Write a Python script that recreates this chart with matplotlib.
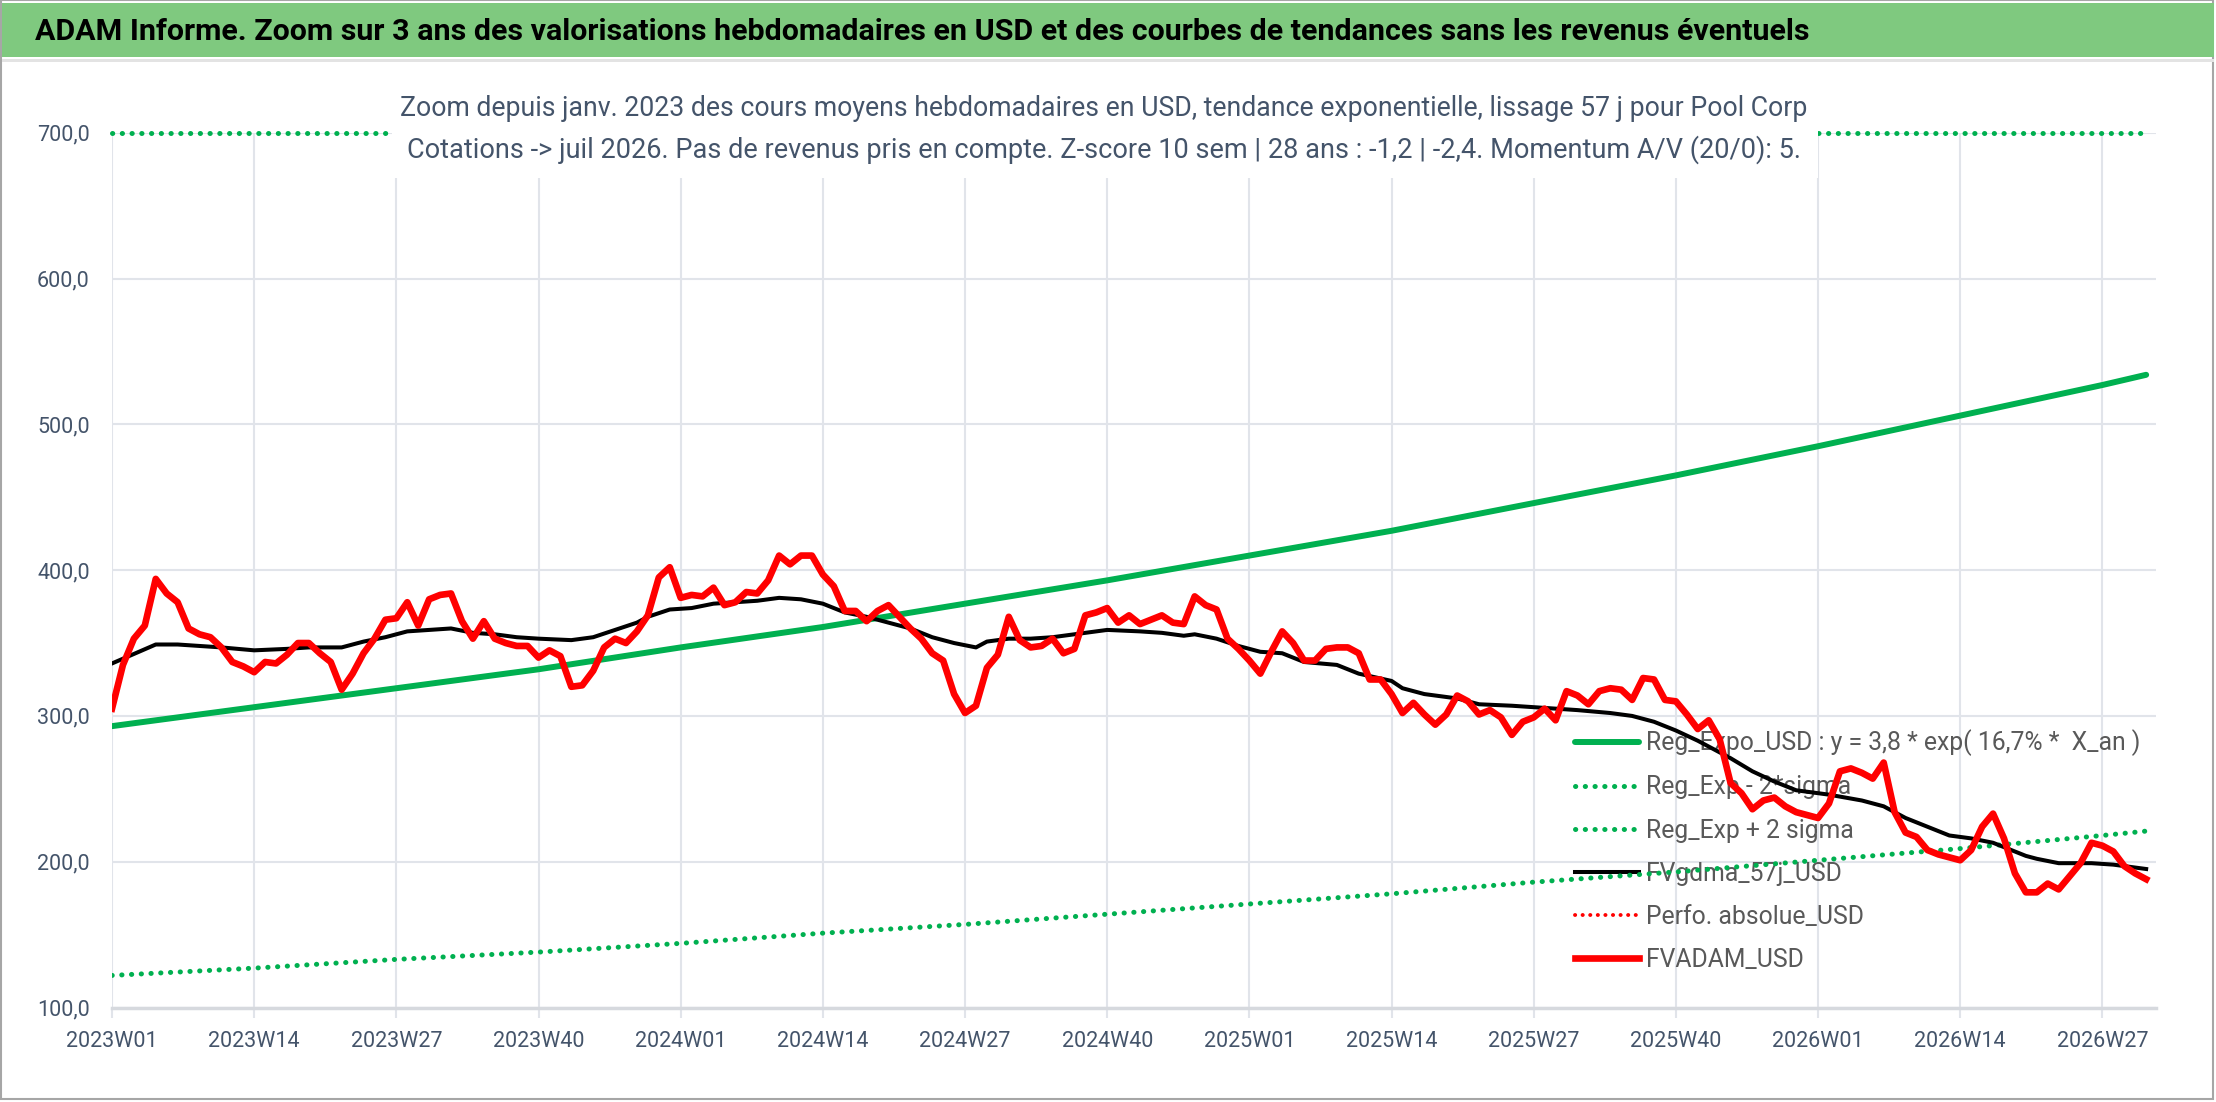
import matplotlib
matplotlib.use("Agg")
import matplotlib.pyplot as plt
from matplotlib.patches import Rectangle

plt.rcParams['font.family'] = ['DejaVu Sans Condensed', 'Liberation Sans Narrow', 'Roboto', 'DejaVu Sans']

# x axis: weekly categories, one label every 13 weeks
tick_weeks = [0, 13, 26, 39, 52, 65, 78, 91, 104, 117, 130, 143, 156, 169, 182]
tick_labels = ["2023W01", "2023W14", "2023W27", "2023W40", "2024W01", "2024W14",
               "2024W27", "2024W40", "2025W01", "2025W14", "2025W27", "2025W40",
               "2026W01", "2026W14", "2026W27"]

# FVADAM_USD, weekly average price
fvadam_usd = [
    305, 335, 353, 362, 394, 384, 378, 360, 356, 354,
    347, 337, 334, 330, 337, 336, 342, 350, 350, 343,
    337, 318, 329, 343, 353, 366, 367, 378, 362, 380,
    383, 384, 365, 353, 365, 353, 350, 348, 348, 340,
    345, 341, 320, 321, 331, 347, 353, 350, 358, 369,
    395, 402, 381, 383, 382, 388, 376, 378, 385, 384,
    393, 410, 404, 410, 410, 397, 389, 372, 372, 365,
    372, 376, 368, 360, 353, 343, 338, 315, 302, 307,
    333, 342, 368, 352, 347, 348, 353, 343, 346, 369,
    371, 374, 364, 369, 363, 366, 369, 364, 363, 382,
    376, 373, 353, 346, 338, 329, 344, 358, 350, 338,
    338, 346, 347, 347, 343, 325, 325, 315, 302, 309,
    301, 294, 301, 314, 310, 301, 304, 299, 287, 296,
    299, 305, 297, 317, 314, 308, 317, 319, 318, 311,
    326, 325, 311, 310, 301, 291, 297, 284, 254, 247,
    236, 242, 244, 238, 234, 232, 230, 240, 262, 264,
    261, 257, 268, 234, 220, 217, 208, 205, 203, 201,
    208, 224, 233, 216, 192, 179, 179, 185, 181, 190,
    199, 213, 211, 207, 197, 192, 188,
]

# FVgdma_57j_USD, smoothed curve
gdma_weeks = [0, 4, 6, 8, 10, 13, 16, 18, 21, 23, 25, 27, 31, 33, 35, 37, 39, 42, 44,
              46, 48, 49, 51, 53, 55, 59, 61, 63, 65, 67, 69, 71, 73, 75, 77, 79, 80,
              82, 84, 86, 89, 91, 94, 96, 98, 99, 101, 103, 105, 107, 109, 112, 114,
              117, 118, 120, 123, 125, 128, 132, 134, 137, 139, 141, 143, 145, 148,
              150, 152, 154, 157, 160, 162, 164, 166, 168, 170, 172, 173, 175, 176,
              178, 181, 183, 186]
gdma_usd = [336, 349, 349, 348, 347, 345, 346, 347, 347, 351, 354, 358, 360, 357, 356,
            354, 353, 352, 354, 359, 364, 368, 373, 374, 377, 379, 381, 380, 377, 371,
            368, 364, 360, 354, 350, 347, 351, 353, 353, 354, 357, 359, 358, 357, 355,
            356, 353, 348, 344, 343, 337, 335, 329, 324, 319, 315, 312, 308, 307, 305,
            304, 302, 300, 296, 290, 283, 271, 262, 255, 249, 246, 242, 238, 230, 224,
            218, 216, 213, 210, 204, 202, 199, 199, 198, 195]

# exponential trend and its bands, read at the label weeks and at the last week
reg_weeks = [0, 13, 26, 39, 52, 65, 78, 91, 104, 117, 130, 143, 156, 169, 182, 186]
reg_expo = [293, 306, 319, 332, 347, 361, 377, 393, 410, 427, 446, 465, 485, 506, 527, 534]
reg_minus = [122, 127, 133, 138, 144, 151, 157, 164, 171, 178, 186, 193, 201, 209, 218, 221]
reg_plus = [700, 700, 700, 700, 700, 700, 700, 700, 700, 700, 700, 700, 700, 700, 700, 700]

y_ticks = [100, 200, 300, 400, 500, 600, 700]

title = ("ADAM Informe. Zoom sur 3 ans des valorisations hebdomadaires en USD et des "
         "courbes de tendances sans les revenus éventuels")
sub1 = ("Zoom depuis janv. 2023 des cours moyens hebdomadaires en USD, tendance "
        "exponentielle, lissage 57 j pour Pool Corp")
sub2 = ("Cotations -> juil 2026. Pas de revenus pris en compte. Z-score 10 sem | "
        "28 ans : -1,2 | -2,4. Momentum A/V (20/0): 5.")

GREEN = '#00B050'
TXT = '#44546A'
GRID = '#E1E4EA'

W, H = 2216, 1102
fig = plt.figure(figsize=(W / 100, H / 100), dpi=100)
renderer = fig.canvas.get_renderer()


def fx(px):
    return px / W


def fy(py):
    return 1 - py / H


def fit_width(t, target_px):
    # scale the font so the text spans the same width as in the reference
    w = t.get_window_extent(renderer).width
    t.set_fontsize(t.get_fontsize() * target_px / w)


# outer frame, banner
fig.patches.append(Rectangle((fx(1), fy(1099)), fx(2212), 1 - 3 / H, transform=fig.transFigure,
                             fill=False, edgecolor='#A6A6A6', lw=1.5))
fig.patches.append(Rectangle((fx(2), fy(57)), fx(2212), 54 / H, transform=fig.transFigure,
                             facecolor='#7FC97F', edgecolor='none'))
fig.patches.append(Rectangle((fx(2), fy(62)), fx(2212), 3 / H, transform=fig.transFigure,
                             facecolor='#E3E3E3', edgecolor='none'))
t_title = fig.text(fx(35), fy(32), title, fontsize=26, fontweight='bold', color='black',
                   ha='left', va='center')
fit_width(t_title, 1780)

ax = fig.add_axes([fx(112), fy(1007.5), fx(2156 - 112), (1007.5 - 132.8) / H])

ax.plot(reg_weeks, reg_expo, color=GREEN, lw=4.3, solid_capstyle='round', zorder=3,
        label="Reg_Expo_USD : y = 3,8 * exp( 16,7% *  X_an )")
ax.plot(reg_weeks, reg_minus, color=GREEN, lw=3.6, linestyle=(0, (0.05, 1.9)),
        dash_capstyle='round', zorder=3, label="Reg_Exp - 2*sigma")
ax.plot(reg_weeks, reg_plus, color=GREEN, lw=3.6, linestyle=(0, (0.05, 1.9)),
        dash_capstyle='round', zorder=3, clip_on=False, label="Reg_Exp + 2 sigma")
ax.plot(gdma_weeks, gdma_usd, color='black', lw=2.9, zorder=4, label="FVgdma_57j_USD")
ax.plot([], [], color='red', lw=2.8, linestyle=(0, (0.05, 1.9)), dash_capstyle='round',
        label="Perfo. absolue_USD")
ax.plot(range(len(fvadam_usd)), fvadam_usd, color='red', lw=4.8, zorder=5,
        solid_joinstyle='round', label="FVADAM_USD")

ax.set_xlim(0, 186.9)
ax.set_ylim(100, 700)
ax.set_xticks(tick_weeks)
ax.set_xticklabels(tick_labels)
ax.set_yticks(y_ticks)
ax.set_yticklabels([f"{v},0" for v in y_ticks])
ax.grid(True, color=GRID, lw=1.5, zorder=0)
ax.set_axisbelow(True)
for s in ['top', 'right', 'left']:
    ax.spines[s].set_visible(False)
ax.spines['bottom'].set_color('#D6D9DE')
ax.spines['bottom'].set_linewidth(2.5)
ax.tick_params(axis='x', colors=GRID, labelcolor=TXT, labelsize=17, length=7, width=1.5, pad=10)
ax.tick_params(axis='y', labelcolor=TXT, labelsize=17, length=0, pad=16)

# tick label sizes fitted on one label of each axis (slightly wider for legibility)
xl = ax.get_xticklabels()[0]
ax.tick_params(axis='x', labelsize=17 * 92 / xl.get_window_extent(renderer).width)
yl = ax.get_yticklabels()[0]
ax.tick_params(axis='y', labelsize=17 * 53 / yl.get_window_extent(renderer).width)

# white title box over the top of the plot
fig.patches.append(Rectangle((fx(392), fy(178)), fx(1818 - 392), (178 - 70) / H,
                             transform=fig.transFigure, facecolor='white', edgecolor='none',
                             zorder=6))
t1 = fig.text(fx(1104), fy(109), sub1, fontsize=22, color=TXT, ha='center', va='center', zorder=7)
t2 = fig.text(fx(1104), fy(150), sub2, fontsize=22, color=TXT, ha='center', va='center', zorder=7)
fit_width(t1, 1407)
fit_width(t2, 1390)

# legend: size fitted on the first label, rows 43 px apart
probe = fig.text(0, 0, "Reg_Expo_USD : y = 3,8 * exp( 16,7% *  X_an )", fontsize=19)
leg_fs = 19 * 493 / probe.get_window_extent(renderer).width
probe.remove()
row_px = 43.3
fs_px = leg_fs * 100 / 72
leg = ax.legend(loc='upper left', bbox_to_anchor=(fx(1575), fy(741.7 - 0.49 * fs_px)),
                bbox_transform=fig.transFigure, frameon=False, fontsize=leg_fs,
                handlelength=64 / fs_px, handletextpad=7 / fs_px,
                labelspacing=row_px / fs_px - 0.98, borderpad=0, borderaxespad=0)
leg.set_zorder(1)
for t in leg.get_texts():
    t.set_color('#595959')

fig.savefig("out.png", dpi=100)
